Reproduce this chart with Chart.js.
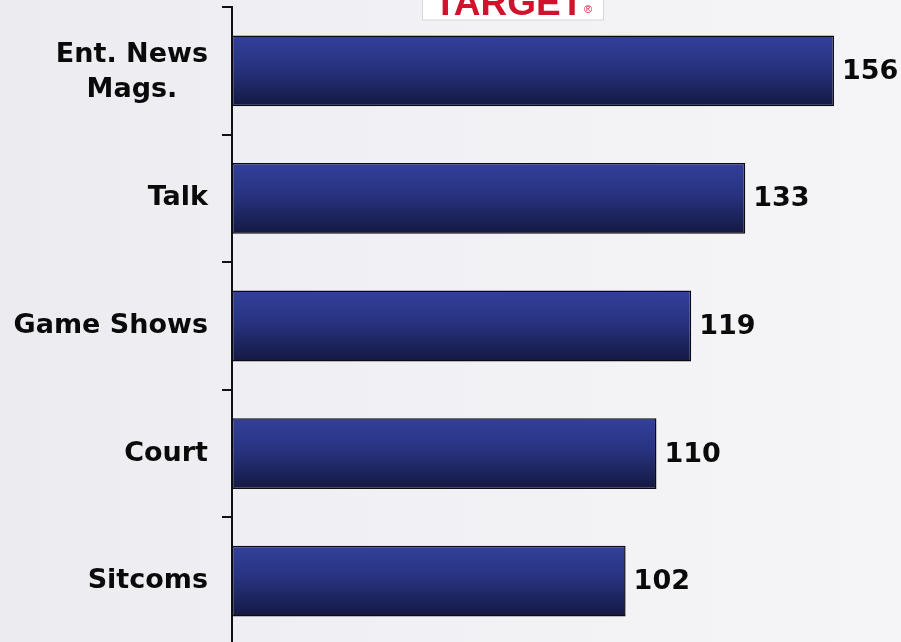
<!DOCTYPE html>
<html>
<head>
<meta charset="utf-8">
<script src="https://cdn.jsdelivr.net/npm/chart.js@4/dist/chart.umd.min.js"></script>
<style>
  html, body { margin: 0; padding: 0; overflow: hidden; }
  body {
    width: 901px; height: 642px;
    background: linear-gradient(90deg, #ebebf0 0%, #f1f1f5 45%, #f5f5f7 100%);
  }
  #wrap { position: relative; width: 901px; height: 660px; }
</style>
</head>
<body>
<div id="wrap"><canvas id="chart"></canvas></div>
<script>
// 데이터
const categories = [['Ent. News', 'Mags.'], 'Talk', 'Game Shows', 'Court', 'Sitcoms'];
const values = [156, 133, 119, 110, 102];
const xMin = 0;
const xMax = 170;

const labelFont = 'bold 27px "DejaVu Sans", Verdana, sans-serif';

// 막대 그라데이션 (위: 밝은 파랑 → 아래: 진한 남색)
function barGradient(context) {
  const chart = context.chart;
  const yScale = chart.scales.y;
  if (!yScale || context.dataIndex === undefined) return '#28337f';
  const center = yScale.getPixelForValue(context.dataIndex);
  const half = (yScale.height / categories.length) * 0.555 / 2;
  if (!isFinite(center) || !isFinite(half) || half <= 0) return '#28337f';
  const g = chart.ctx.createLinearGradient(0, center - half, 0, center + half);
  g.addColorStop(0, '#33409b');
  g.addColorStop(0.45, '#27337f');
  g.addColorStop(1, '#141842');
  return g;
}

// 로고 + 카테고리 라벨 + 값 라벨
const decorPlugin = {
  id: 'decor',
  beforeDraw(chart) {
    const ctx = chart.ctx;
    ctx.save();
    ctx.fillStyle = '#ffffff';
    ctx.fillRect(422, -2, 182, 22);
    ctx.strokeStyle = '#d6d6dc';
    ctx.lineWidth = 1;
    ctx.strokeRect(422.5, -2, 181, 22);
    ctx.fillStyle = '#d0122c';
    ctx.textBaseline = 'alphabetic';
    ctx.textAlign = 'left';
    ctx.font = 'bold 37px "Liberation Sans", Arial, sans-serif';
    ctx.fillText('TARGET', 434, 15);
    ctx.font = '11px "Liberation Sans", Arial, sans-serif';
    ctx.fillText('®', 584, 13);
    ctx.restore();
  },
  afterDatasetsDraw(chart) {
    const ctx = chart.ctx;
    const yScale = chart.scales.y;
    ctx.save();
    ctx.font = labelFont;
    ctx.fillStyle = '#0a0a0a';
    ctx.textBaseline = 'middle';

    // 카테고리 라벨 (여러 줄은 가운데 정렬)
    const rightEdge = yScale.right - 24;
    const lineH = 35;
    categories.forEach((cat, i) => {
      const lines = Array.isArray(cat) ? cat : [cat];
      const widest = Math.max(...lines.map(l => ctx.measureText(l).width));
      const cx = rightEdge - widest / 2;
      const cy = yScale.getPixelForValue(i) + (lines.length > 1 ? 1.5 : 0);
      ctx.textAlign = 'center';
      lines.forEach((l, j) => {
        ctx.fillText(l, cx, cy + (j - (lines.length - 1) / 2) * lineH);
      });
    });

    // 값 라벨
    ctx.textAlign = 'left';
    const meta = chart.getDatasetMeta(0);
    meta.data.forEach((bar, i) => {
      ctx.fillText(String(values[i]), bar.x + 8, bar.y + 1);
    });
    ctx.restore();
  }
};

new Chart(document.getElementById('chart'), {
  type: 'bar',
  data: {
    labels: categories,
    datasets: [{
      data: values,
      backgroundColor: barGradient,
      borderColor: '#0a0a14',
      borderWidth: 1.5,
      borderSkipped: false,
      categoryPercentage: 1,
      barPercentage: 0.555
    }]
  },
  options: {
    indexAxis: 'y',
    responsive: true,
    maintainAspectRatio: false,
    animation: false,
    layout: { padding: { top: 7, bottom: 15, left: 0, right: 13 } },
    plugins: {
      legend: { display: false },
      tooltip: { enabled: false }
    },
    scales: {
      x: {
        display: false,
        min: xMin,
        max: xMax
      },
      y: {
        afterFit(scale) { scale.width = 232; },
        ticks: { display: false },
        grid: {
          display: true,
          drawOnChartArea: false,
          drawTicks: true,
          tickLength: 10,
          color: '#111111',
          lineWidth: 2,
          offset: true
        },
        border: { display: true, color: '#111111', width: 2 }
      }
    }
  },
  plugins: [decorPlugin]
});
</script>
</body>
</html>
